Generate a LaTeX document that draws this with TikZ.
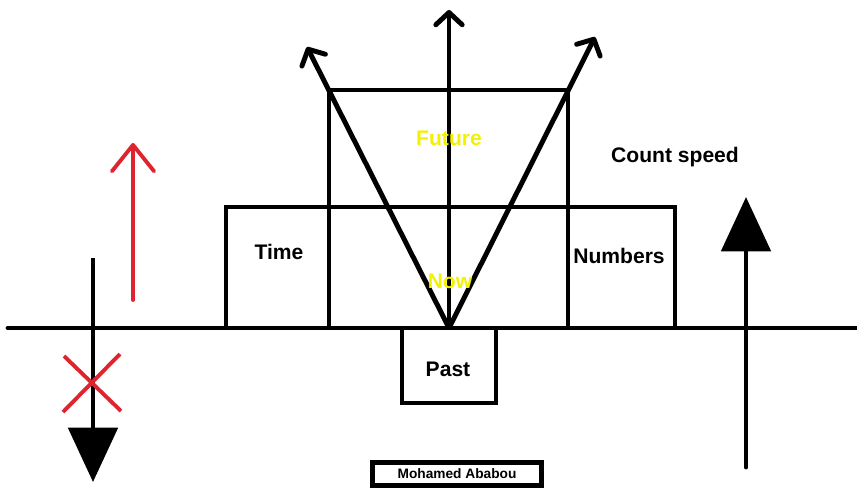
\documentclass[tikz,border=0pt]{standalone}
\usepackage{fontspec}
\setmainfont{Liberation Sans}
\usepackage{xcolor}
\usepackage{tikz}
\usetikzlibrary{arrows.meta, positioning}

\definecolor{markred}{RGB}{222,36,46}
\definecolor{nowyellow}{RGB}{242,242,0}

\begin{document}
\begin{tikzpicture}[
    x=0.02cm, y=-0.02cm,
    thickline/.style={line width=2.8pt},
    redline/.style={line width=2.2pt, draw=markred},
    label/.style={font=\fontsize{12}{14}\selectfont\bfseries, inner sep=0pt, anchor=base},
    openarrow/.style={-{Straight Barb[length=7pt, width=15pt, round]}},
    fullarrow/.style={-{Triangle[length=31pt, width=28pt]}}
]
\fill[white] (0,0) rectangle (857,487);
\useasboundingbox (0,0) rectangle (857,487);

\coordinate (left end) at (8,328);
\coordinate (right end) at (870,328);
\coordinate (now) at (449,328);

% boxes
\draw[thickline] (226,207) rectangle (675,328);
\draw[thickline] (329,90) rectangle (568,328);
\draw[thickline] (402,328) rectangle (496,403);
\draw[thickline, line cap=round] (left end) -- (right end);

% light cone
\coordinate (cone left) at (307,47);
\coordinate (cone up) at (449,10);
\coordinate (cone right) at (595,37);
\draw[thickline, openarrow] (now) -- (cone left);
\draw[thickline, openarrow] (now) -- (cone up);
\draw[thickline, openarrow] (now) -- (cone right);

% left side
\coordinate (down start) at (93,258);
\coordinate (down end) at (93,482);
\draw[thickline, fullarrow] (down start) -- (down end);
\draw[redline] (64,356) -- (121,411);
\draw[redline] (63,412) -- (120,354);
\coordinate (red start) at (133,300);
\coordinate (red end) at (133,143);
\draw[redline, line cap=round, -{Straight Barb[length=15pt, width=24pt, round]}] (red start) -- (red end);

% right side
\coordinate (speed start) at (746,467);
\coordinate (speed end) at (746,197);
\draw[thickline, line cap=round, fullarrow] (speed start) -- (speed end);

% labels
\node[label] (time) at (279,259) {Time};
\node[label] (numbers) at (619,263) {Numbers};
\node[label] (count) at (675,162) {Count speed};
\node[label, text=nowyellow] (future) at (449,145) {Future};
\node[label, text=nowyellow] (nowlabel) at (450,288) {Now};
\node[label] (past) at (448,376) {Past};
\node[draw, line width=2.4pt, font=\fontsize{7.8}{9}\selectfont\bfseries, inner sep=0pt,
    minimum width=3.38cm, minimum height=0.46cm] (author) at (457,474) {Mohamed Ababou};
\end{tikzpicture}
\end{document}
